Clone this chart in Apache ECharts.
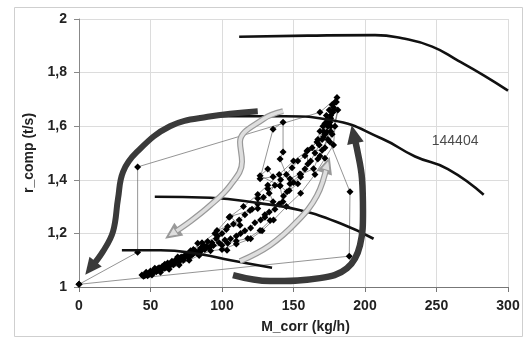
<!DOCTYPE html>
<html>
<head>
<meta charset="utf-8">
<script src="https://cdn.jsdelivr.net/npm/echarts@6/dist/echarts.min.js"></script>
<style>
  html, body { margin: 0; padding: 0; background: #fff; }
  #chart { width: 530px; height: 339px; }
</style>
</head>
<body>
<div id="chart"></div>
<script>
// 轴刻度
const xTicks = [0, 50, 100, 150, 200, 250, 300];
const yTicks = [1, 1.2, 1.4, 1.6, 1.8, 2];

// 等转速线
const speedTop = [[112, 1.934], [160, 1.938], [207, 1.94], [226, 1.928], [247, 1.897], [265, 1.845], [283, 1.79], [300, 1.733]];
const speed144404 = [[84, 1.637], [144, 1.637], [177, 1.622], [212, 1.553], [235, 1.487], [258, 1.44], [283, 1.344]];
const speedMid = [[53, 1.337], [92, 1.333], [127, 1.312], [154, 1.287], [183, 1.237], [206, 1.18]];
const speedLow = [[30, 1.137], [57, 1.137], [85, 1.122], [106, 1.1], [135, 1.072]];
const speedLabel = [[263, 1.544, "144404"]];

// 测量点（按时间顺序）
const measured = [
  [0, 1.01], [41, 1.13], [41, 1.448], [168.5, 1.652],
  [180.4, 1.707], [179, 1.689], [177.6, 1.652], [175.5, 1.615], [173.4, 1.626], [170.6, 1.6],
  [173.4, 1.578], [168.5, 1.581], [166.4, 1.541], [159.4, 1.507], [160, 1.459], [154.5, 1.422],
  [147.5, 1.404], [153, 1.385], [145.5, 1.355], [140.6, 1.378], [132, 1.367], [135.7, 1.318],
  [125, 1.33], [125, 1.293], [119.6, 1.285], [105.6, 1.263], [112.6, 1.23], [104, 1.226],
  [96.5, 1.211], [97, 1.19], [90, 1.17], [83, 1.163], [87, 1.156], [80, 1.14], [76, 1.12],
  [72, 1.112], [68, 1.1], [65, 1.092], [62, 1.085], [58, 1.076], [55, 1.068], [52, 1.06],
  [50, 1.054], [47, 1.046], [45, 1.04],
  [48, 1.042], [51, 1.05], [54, 1.057], [57, 1.062], [60, 1.07], [63, 1.077], [66, 1.083],
  [70, 1.094], [73, 1.1], [77, 1.11], [80, 1.124], [84, 1.134], [88, 1.145], [92, 1.15],
  [100, 1.156], [103.5, 1.137], [104, 1.163], [110, 1.172], [118, 1.181], [126.6, 1.211],
  [133.6, 1.248], [130, 1.27], [142.6, 1.318], [140.6, 1.378], [126.6, 1.415], [132, 1.44],
  [135.7, 1.411], [126.6, 1.404], [135.7, 1.589], [142.7, 1.615], [142.7, 1.504], [140.6, 1.478],
  [147.5, 1.385], [155, 1.42], [164, 1.441], [167, 1.478], [168.5, 1.489], [172, 1.52],
  [178, 1.66], [176, 1.63], [174, 1.6], [172, 1.57], [170, 1.55], [168, 1.53], [165, 1.5],
  [162, 1.47], [158, 1.44], [155, 1.41], [150, 1.39], [147, 1.36], [143, 1.34], [140, 1.31],
  [137, 1.29], [133, 1.28], [130, 1.26], [127, 1.25], [123, 1.24], [120, 1.22], [116, 1.21],
  [113, 1.2], [110, 1.19], [106, 1.18], [102, 1.175], [98, 1.165], [94, 1.155], [91, 1.148],
  [88, 1.14], [85, 1.132], [82, 1.128], [79, 1.12], [76, 1.113], [73, 1.105], [70, 1.098],
  [67, 1.09], [64, 1.082], [61, 1.075], [58, 1.068], [55, 1.062], [52, 1.055], [49, 1.048],
  [46, 1.042],
  [50, 1.06], [53, 1.066], [56, 1.072], [59, 1.078], [62, 1.09], [65, 1.096], [68, 1.104],
  [71, 1.11], [74, 1.118], [78, 1.128], [81, 1.135], [85, 1.145], [89, 1.152], [93, 1.165],
  [96, 1.18], [100, 1.2], [103, 1.215], [108, 1.235], [112, 1.25], [116, 1.27], [121, 1.29],
  [125, 1.31], [129, 1.335], [133, 1.35], [137, 1.38], [141, 1.4], [145, 1.42], [149, 1.445],
  [153, 1.47], [158, 1.49], [163, 1.52], [167, 1.55], [171, 1.58], [174, 1.61], [176, 1.64],
  [178, 1.67], [180, 1.69], [177, 1.68], [175, 1.66], [176, 1.6], [177, 1.57], [174, 1.55],
  [171, 1.56], [173, 1.64], [172, 1.61], [176, 1.58],
  [170, 1.51], [160, 1.51], [150, 1.47], [140, 1.42], [132, 1.38], [125, 1.345], [115, 1.3],
  [105, 1.26], [95, 1.2], [86, 1.165], [78, 1.135], [69, 1.112], [60, 1.085], [53, 1.07],
  [47, 1.055], [44, 1.045], [51, 1.045], [57, 1.055], [63, 1.066], [70, 1.082], [77, 1.1],
  [84, 1.118], [92, 1.135], [100, 1.14], [110, 1.16], [120, 1.18], [128, 1.21], [136, 1.25],
  [145, 1.3], [155, 1.35], [165, 1.42], [172, 1.48], [178, 1.53], [179, 1.6], [181, 1.66],
  [175.5, 1.541], [189.5, 1.355], [189, 1.115], [0, 1.01]
];

// 示意箭头（数据坐标）
const arrowDarkLeft = [[125, 1.656], [90, 1.635], [63.6, 1.6], [40.5, 1.504], [30.8, 1.43], [27.3, 1.33], [23.8, 1.207], [16.8, 1.133], [8, 1.07]];
const arrowLightUpper = [[142.7, 1.656], [128.7, 1.626], [112.6, 1.541], [114, 1.467], [105.6, 1.378], [91.6, 1.304], [77.6, 1.244], [65, 1.198]];
const arrowLightLower = [[112.6, 1.096], [133.6, 1.156], [152.4, 1.244], [166.4, 1.341], [173.5, 1.455]];
const arrowDarkRight = [[107.7, 1.044], [133.6, 1.022], [168.5, 1.033], [187.4, 1.07], [196.5, 1.156], [198.6, 1.281], [197.9, 1.404], [194.4, 1.515], [192, 1.57]];
const arrowRotate = { darkLeft: 142, lightUpper: 125, lightLower: -18, darkRight: 12 };

const chart = echarts.init(document.getElementById("chart"));

function curve(data) {
  return {
    type: "line",
    data: data,
    smooth: 0.5,
    showSymbol: false,
    silent: true,
    lineStyle: { color: "#111", width: 2.6 },
    z: 3,
  };
}

function arrow(path, rotate, color, width, z, border) {
  const items = path.map((p, i) => {
    if (i < path.length - 1) return { value: p, symbol: "none" };
    return {
      value: p,
      symbol: "triangle",
      symbolSize: [width * 2.6, width * 2.8],
      symbolRotate: rotate,
    };
  });
  return {
    type: "line",
    data: items,
    smooth: 0.4,
    showSymbol: true,
    silent: true,
    lineStyle: { color: color, width: width },
    itemStyle: border ? { color: color, borderColor: border, borderWidth: 1 } : { color: color },
    z: z,
  };
}

const option = {
  animation: false,
  grid: { left: 79, top: 19, right: 22, bottom: 50 },
  graphic: [
    {
      type: "rect",
      shape: { x: 14.5, y: 7.5, width: 508, height: 329 },
      style: { fill: "none", stroke: "#cfcfcf", lineWidth: 1 },
      silent: true,
    },
  ],
  xAxis: {
    type: "value",
    min: xTicks[0],
    max: xTicks[xTicks.length - 1],
    interval: 50,
    name: "M_corr (kg/h)",
    nameLocation: "middle",
    nameGap: 33,
    nameTextStyle: {
      fontFamily: "Liberation Sans",
      fontWeight: "bold",
      fontSize: 14,
      color: "#222",
      padding: [0, 0, 0, 24],
    },
    axisLine: { show: true, lineStyle: { color: "#777", width: 1 } },
    axisTick: { show: true, length: 5, lineStyle: { color: "#777" } },
    axisLabel: {
      fontFamily: "Liberation Sans",
      fontWeight: "bold",
      fontSize: 14,
      color: "#222",
      margin: 12,
    },
    splitLine: { show: true, lineStyle: { color: "#dcdcdc", width: 1 } },
  },
  yAxis: {
    type: "value",
    min: yTicks[0],
    max: yTicks[yTicks.length - 1],
    interval: 0.2,
    name: "r_comp (t/s)",
    nameLocation: "middle",
    nameGap: 37,
    nameTextStyle: {
      fontFamily: "Liberation Sans",
      fontWeight: "bold",
      fontSize: 14,
      color: "#222",
    },
    axisLine: { show: true, lineStyle: { color: "#888", width: 1 } },
    axisTick: { show: true, length: 5, lineStyle: { color: "#888" } },
    axisLabel: {
      fontFamily: "Liberation Sans",
      fontWeight: "bold",
      fontSize: 14,
      color: "#222",
      margin: 12,
      formatter: (v) => String(Math.round(v * 10) / 10).replace(".", ","),
    },
    splitLine: { show: true, lineStyle: { color: "#dcdcdc", width: 1 } },
  },
  series: [
    {
      type: "line",
      data: measured,
      showSymbol: true,
      symbol: "diamond",
      symbolSize: 7,
      silent: true,
      lineStyle: { color: "#666", width: 0.7 },
      itemStyle: { color: "#000" },
      z: 2,
    },
    curve(speedTop),
    curve(speed144404),
    curve(speedMid),
    curve(speedLow),
    {
      type: "scatter",
      data: speedLabel,
      symbolSize: 0,
      silent: true,
      label: {
        show: true,
        formatter: (p) => p.value[2],
        position: "inside",
        fontFamily: "Liberation Sans",
        fontSize: 14,
        color: "#1a1a1a",
      },
    },
    arrow(arrowLightUpper, arrowRotate.lightUpper, "#999", 6, 5),
    arrow(arrowLightUpper, arrowRotate.lightUpper, "#dedede", 3.6, 6, "#999"),
    arrow(arrowLightLower, arrowRotate.lightLower, "#999", 6, 5),
    arrow(arrowLightLower, arrowRotate.lightLower, "#dedede", 3.6, 6, "#999"),
    arrow(arrowDarkLeft, arrowRotate.darkLeft, "#3a3a3a", 6, 7),
    arrow(arrowDarkRight, arrowRotate.darkRight, "#3a3a3a", 6.5, 7),
  ],
};

chart.setOption(option);
</script>
</body>
</html>
